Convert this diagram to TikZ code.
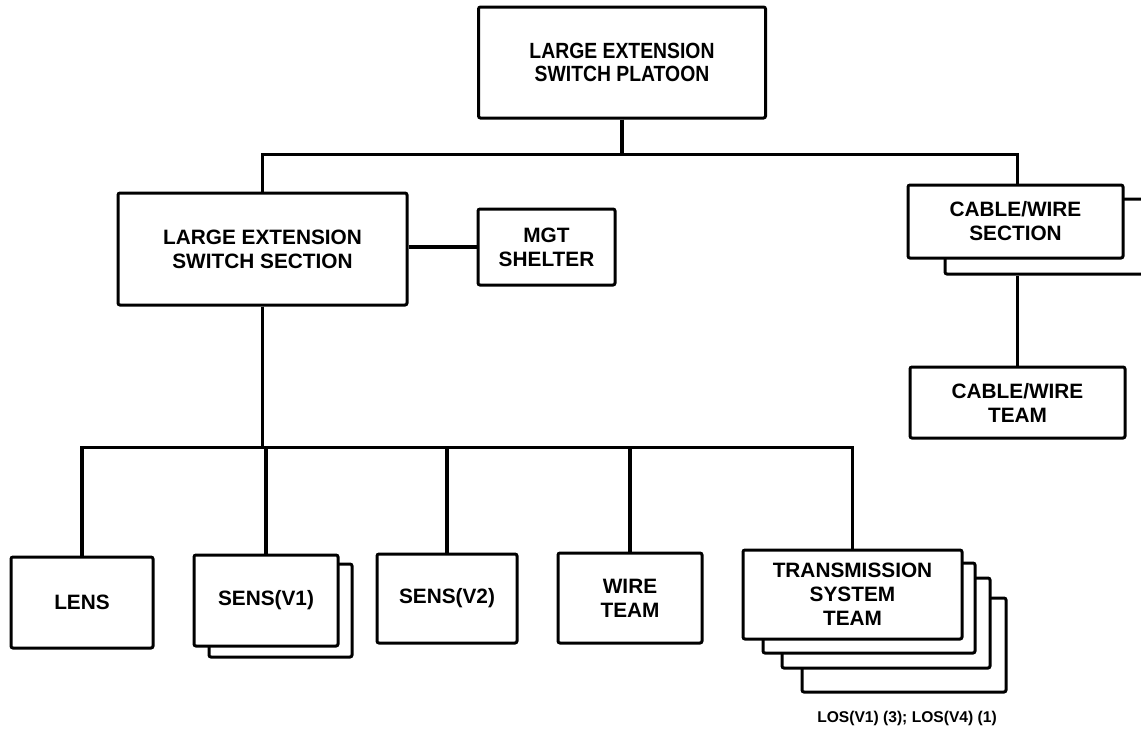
\documentclass[tikz,border=0pt]{standalone}
\usepackage{fontspec}
\setmainfont{Liberation Sans}
\newfontfamily\narrowsans[FakeStretch=0.88]{Liberation Sans}
\tikzset{%
  % Specifications for style of nodes:
          unitbox/.style = {rectangle, rounded corners=1pt, draw=black,
                            line width=1.5pt, fill=white, inner sep=0pt,
                            align=center, text centered,
                            font=\bfseries\fontsize{10.4}{12}\selectfont},
           topbox/.style = {unitbox,
                            font=\narrowsans\bfseries\fontsize{11}{11.6}\selectfont},
         stackbox/.style = {unitbox},
             link/.style = {line width=1.6pt},
             note/.style = {font=\bfseries\fontsize{7.8}{9}\selectfont},
}

\begin{document}
\begin{tikzpicture}[x=0.5pt, y=-0.5pt]
  \clip (0,0) rectangle (1141,734);
  % Specification of nodes (position, size)

  % platoon and sections
  \node (top)      [topbox, minimum width=143.5pt, minimum height=55.5pt] at (622,62.5) {LARGE EXTENSION\\SWITCH PLATOON};
  \node (les)      [unitbox, minimum width=144.5pt, minimum height=56pt] at (262.5,249) {LARGE EXTENSION\\SWITCH SECTION};
  \node (mgt)      [unitbox, minimum width=68.5pt, minimum height=38pt] at (546.5,247) {MGT\\SHELTER};
  \node (cwsback)  [stackbox, minimum width=107.5pt, minimum height=37.5pt] at (1052.5,236.5) {};
  \node (cws)      [unitbox, minimum width=107.5pt, minimum height=36.5pt] at (1015.5,221.5) {CABLE/WIRE\\SECTION};
  \node (cwt)      [unitbox, minimum width=107.5pt, minimum height=35.5pt] at (1017.5,402.5) {CABLE/WIRE\\TEAM};

  % teams of the switch section
  \node (lens)     [unitbox, minimum width=71pt, minimum height=45.5pt] at (82,602.5) {LENS};
  \node (sensback) [stackbox, minimum width=71.5pt, minimum height=46.5pt] at (280.5,610.5) {};
  \node (sensa)    [unitbox, minimum width=72pt, minimum height=45.5pt] at (266,600.5) {SENS(V1)};
  \node (sensb)    [unitbox, minimum width=70pt, minimum height=44.5pt] at (447,598.5) {SENS(V2)};
  \node (wire)     [unitbox, minimum width=72pt, minimum height=45pt] at (630,598) {WIRE\\TEAM};
  \node (tstc)     [stackbox, minimum width=102pt, minimum height=47pt] at (904,645) {};
  \node (tstb)     [stackbox, minimum width=104pt, minimum height=45pt] at (886,623) {};
  \node (tsta)     [stackbox, minimum width=106pt, minimum height=45pt] at (869,608) {};
  \node (tst)      [unitbox, minimum width=109.5pt, minimum height=44.5pt] at (852.5,594.5) {TRANSMISSION\\SYSTEM\\TEAM};
  \node (los)      [note] at (907,718) {LOS(V1) (3); LOS(V4) (1)};

  % connectors
  \draw[link]  (top.south) -- ++(0,35) -| (les.north);
  \draw[link]  (top.south) -- ++(0,35) -| (cwt.north |- cws.north);
  \draw[link]  (mgt.west -| les.east) -- (mgt.west);
  \draw[link]  (cwt.north |- cwsback.south) -- (cwt.north);
  \draw[link]  (les.south) -- ++(0,141) -| (lens.north);
  \draw[link]  (les.south) -- ++(0,141) -| (sensa.north);
  \draw[link]  (les.south) -- ++(0,141) -| (sensb.north);
  \draw[link]  (les.south) -- ++(0,141) -| (wire.north);
  \draw[link]  (les.south) -- ++(0,141) -| (tst.north);

\end{tikzpicture}
\end{document}
